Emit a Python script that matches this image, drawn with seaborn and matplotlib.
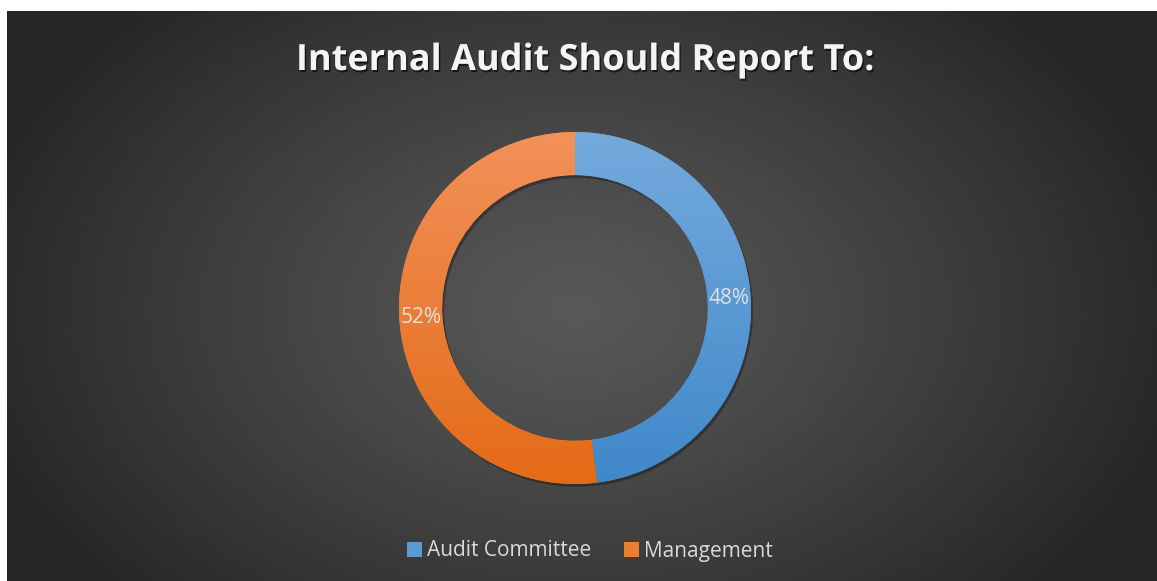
import numpy as np
import matplotlib
matplotlib.use("Agg")
import matplotlib.pyplot as plt
import matplotlib.patheffects as pe
from matplotlib.patches import Patch
import seaborn as sns

# Chart data
categories = ["Audit Committee", "Management"]
shares = [48, 52]
title = "Internal Audit Should Report To:"

# Slice colors (flat for legend, top/bottom for gradient fill)
base_colors = ["#5b9bd5", "#ed7d31"]
top_colors = ["#74aadd", "#f2915a"]
bottom_colors = ["#4088ca", "#e46b16"]

sns.set_theme(style="dark")
plt.rcParams["font.family"] = ["Open Sans", "DejaVu Sans"]

fig = plt.figure(figsize=(11.57, 5.81), dpi=100, facecolor="white")

# Background: dark radial gradient panel
bg = fig.add_axes([7 / 1157, 0, 1150 / 1157, 570 / 581])
yy, xx = np.mgrid[0:570, 0:1150]
cx, cy = 568, 297
d = np.sqrt(((xx - cx) / 620.0) ** 2 + ((yy - cy) / 420.0) ** 2)
d = np.clip(d, 0, 1)
shade = 0.345 - (0.345 - 0.15) * d ** 1.2
bg.imshow(np.dstack([shade, shade, shade]), aspect="auto", interpolation="bilinear")
bg.set_axis_off()

# Donut
ax = fig.add_axes([375 / 1157, 73 / 581, 400 / 1157, 400 / 581])
ax.set_facecolor("none")
radius = 0.88
wedges, texts, autotexts = ax.pie(
    shares,
    startangle=90,
    counterclock=False,
    radius=radius,
    colors=base_colors,
    autopct="%1.0f%%",
    pctdistance=0.875,
    wedgeprops=dict(width=radius * 0.245, edgecolor="none"),
    textprops=dict(color="#e0e0e0", fontsize=15),
)

# soft shadow under the ring
for w in wedges:
    w.set_path_effects([pe.SimplePatchShadow(offset=(1.5, -2), shadow_rgbFace="black", alpha=0.3), pe.Normal()])

# vertical gradient inside each slice
for w, c_top, c_bot in zip(wedges, top_colors, bottom_colors):
    t = np.array(matplotlib.colors.to_rgb(c_top))
    b = np.array(matplotlib.colors.to_rgb(c_bot))
    frac = np.linspace(0, 1, 256)[:, None, None]
    grad = t * (1 - frac) + b * frac
    grad = np.repeat(grad, 2, axis=1)
    im = ax.imshow(grad, extent=[-radius, radius, -radius, radius], aspect="auto", zorder=w.get_zorder() + 0.1)
    im.set_clip_path(w)

for t in autotexts:
    t.set_zorder(5)

ax.set_xlim(-1, 1)
ax.set_ylim(-1, 1)
ax.set_aspect("equal")
ax.set_axis_off()

# Title
fig.text(
    586 / 1157, 1 - 61 / 581, title,
    ha="center", va="center", color="#f4f4f4", fontsize=26, fontweight="bold",
    path_effects=[pe.withSimplePatchShadow(offset=(1, -1.5), shadow_rgbFace="black", alpha=0.6)],
)

# Legend
handles = [Patch(facecolor=c, edgecolor="none") for c in base_colors]
leg = fig.legend(
    handles, categories, loc="center", bbox_to_anchor=(590 / 1157, 1 - 551 / 581),
    ncol=2, frameon=False, fontsize=15, labelcolor="#d9d9d9",
    handlelength=0.7, handleheight=0.7, handletextpad=0.25, columnspacing=1.6,
)

fig.savefig("out.png", dpi=100, facecolor="white")
